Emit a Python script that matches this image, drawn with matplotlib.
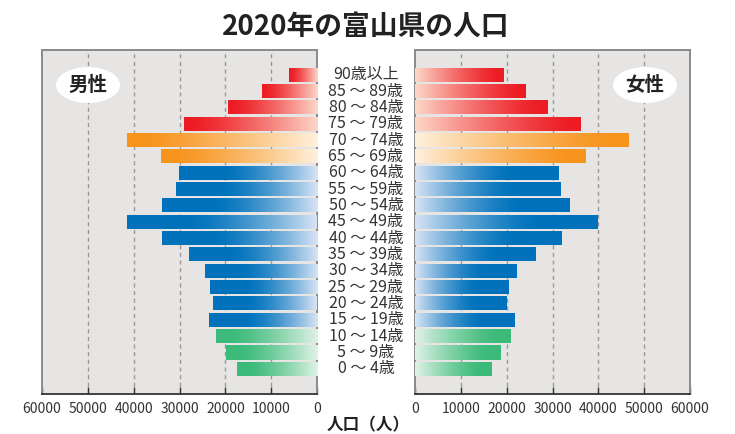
import matplotlib
matplotlib.use("Agg")
import matplotlib.pyplot as plt
import numpy as np
from matplotlib.colors import to_rgb
from matplotlib.patches import Ellipse
import matplotlib.transforms as mtransforms

plt.rcParams['font.family'] = ['Noto Sans CJK JP', 'DejaVu Sans']

# ---------------- data (youngest first) ----------------
age_labels = ["0 ～ 4歳", "5 ～ 9歳", "10 ～ 14歳", "15 ～ 19歳", "20 ～ 24歳",
              "25 ～ 29歳", "30 ～ 34歳", "35 ～ 39歳", "40 ～ 44歳", "45 ～ 49歳",
              "50 ～ 54歳", "55 ～ 59歳", "60 ～ 64歳", "65 ～ 69歳", "70 ～ 74歳",
              "75 ～ 79歳", "80 ～ 84歳", "85 ～ 89歳", "90歳以上"]
male = [17500, 19900, 22100, 23600, 22600, 23400, 24500, 28000, 33900, 41400,
        33900, 30800, 30200, 34100, 41500, 29100, 19500, 12100, 6200]
female = [16600, 18700, 20900, 21800, 19900, 20500, 22200, 26200, 31900, 39800,
          33600, 31700, 31400, 37100, 46500, 36000, 29000, 24200, 19400]
groups = ["green"] * 3 + ["blue"] * 10 + ["orange"] * 2 + ["red"] * 4
tick_values = [0, 10000, 20000, 30000, 40000, 50000, 60000]
title = "2020年の富山県の人口"
xlabel = "人口（人）"

# gradient styles: (solid colour, light colour, plateau fraction, easing power)
styles = {
    "red": ("#ed1c24", "#fdd8c9", 0.05, 1.3),
    "orange": ("#f7941d", "#fff1de", 0.08, 1.3),
    "blue": ("#0072bc", "#d8e4f5", 0.32, 1.5),
    "green": ("#3cba7a", "#e0f3e7", 0.15, 1.3),
}

def gradient(group, n=256):
    solid, light, a, p = styles[group]
    s = np.array(to_rgb(solid)); l = np.array(to_rgb(light))
    t = np.linspace(0, 1, n)
    u = np.clip((t - a) / (1 - a), 0, 1) ** p
    img = s[None, :] * (1 - u[:, None]) + l[None, :] * u[:, None]
    return img[None, :, :]

W, H = 735, 434
fig = plt.figure(figsize=(W / 100, H / 100), dpi=100)
bg = "#e6e5e3"

axL = fig.add_axes([42 / W, 40 / H, 275 / W, 344 / H])
axR = fig.add_axes([415 / W, 40 / H, 275 / W, 344 / H])

ypos = np.arange(len(age_labels))
bar_h = 0.86

for ax, vals, flip in [(axL, male, True), (axR, female, False)]:
    ax.set_facecolor(bg)
    for v in tick_values[1:-1]:
        ax.axvline(v, color="#999999", lw=1.0, ls=(0, (3, 2.5)), zorder=1)
    bars = ax.barh(ypos, vals, height=bar_h, color="none", edgecolor="none", zorder=2)
    for b, g in zip(bars, groups):
        x0 = b.get_x(); w = b.get_width(); y0 = b.get_y(); h = b.get_height()
        im = ax.imshow(gradient(g), extent=(x0 + w, x0, y0, y0 + h),
                       aspect="auto", zorder=3, interpolation="bilinear")
        im.set_clip_path(b)
    ax.set_xlim((60000, 0) if flip else (0, 60000))
    ax.set_ylim(-1.54, len(age_labels) - 1 + 1.51)
    ax.set_xticks(tick_values)
    ax.set_xticklabels([str(v) for v in tick_values])
    ax.tick_params(axis="x", direction="in", length=5, width=1, color="#333333",
                   labelsize=10, labelcolor="#333333", pad=6)
    ax.set_yticks([])
    for side in ["left", "right", "top"]:
        ax.spines[side].set_color("#8a8a8a")
        ax.spines[side].set_linewidth(1.4)
    ax.spines["bottom"].set_color("#333333")
    ax.spines["bottom"].set_linewidth(1.3)

# age labels in the middle
trans = mtransforms.blended_transform_factory(fig.transFigure, axL.transData)
for y, lab in zip(ypos, age_labels):
    fig.text(366 / W, y, lab, transform=trans, ha="center", va="center",
             fontsize=11.5, color="#333333")

# sex labels in white ellipses
for cx, lab in [(88, "男性"), (645, "女性")]:
    e = Ellipse((cx / W, 1 - 85 / H), 64 / W, 36 / H, transform=fig.transFigure,
                facecolor="white", edgecolor="none", zorder=5)
    fig.patches.append(e)
    fig.text(cx / W, 1 - 85 / H, lab, ha="center", va="center", fontsize=14,
             fontweight="bold", color="#222222", zorder=6)

fig.text(366 / W, 1 - 27 / H, title, ha="center", va="center", fontsize=20,
         fontweight="bold", color="#222222")
fig.text(368 / W, 1 - 425 / H, xlabel, ha="center", va="center", fontsize=12,
         fontweight="bold", color="#222222")

fig.savefig("out.png", dpi=100, facecolor="white")
